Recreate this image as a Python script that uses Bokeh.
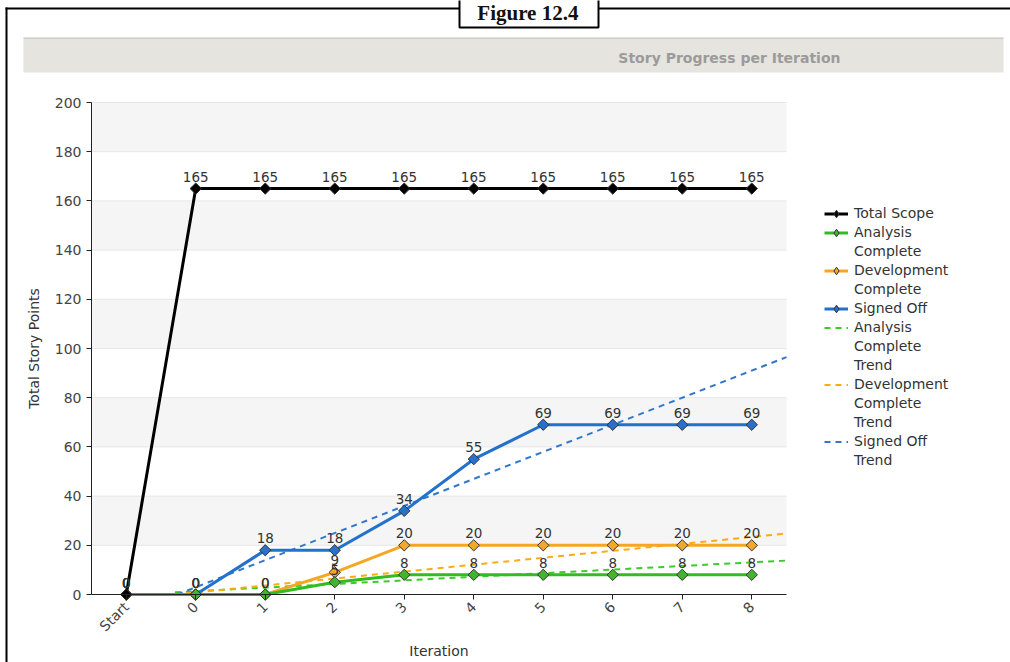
import math
from bokeh.plotting import figure
from bokeh.models import (Range1d, FixedTicker, ColumnDataSource, LabelSet, Legend,
                          LegendItem, Label, LinearAxis)
from bokeh.core.properties import value
from bokeh.embed import file_html
from bokeh.resources import INLINE

# ---------------- data ----------------
categories = ["Start", "0", "1", "2", "3", "4", "5", "6", "7", "8"]
total_scope = [0, 165, 165, 165, 165, 165, 165, 165, 165, 165]
analysis_complete = [0, 0, 0, 5, 8, 8, 8, 8, 8, 8]
development_complete = [0, 0, 0, 9, 20, 20, 20, 20, 20, 20]
signed_off = [0, 0, 18, 18, 34, 55, 69, 69, 69, 69]

# trend lines (start / end, x in category positions)
analysis_trend_x = [0.7, 9.5]
analysis_trend_y = [0.9, 13.8]
development_trend_x = [0.7, 9.5]
development_trend_y = [0.0, 24.8]
signed_off_trend_x = [0.73, 9.5]
signed_off_trend_y = [0.0, 96.5]

y_ticks = [0, 20, 40, 60, 80, 100, 120, 140, 160, 180, 200]

title_text = "Story Progress per Iteration"
figure_caption = "Figure  12.4"

legend_labels = ["Total Scope", "Analysis\nComplete", "Development\nComplete",
                 "Signed Off", "Analysis\nComplete\nTrend",
                 "Development\nComplete\nTrend", "Signed Off\nTrend"]

# ---------------- page geometry (pixels) ----------------
FONT = "DejaVu Sans"
W, H = 1010, 662
PLOT_L, PLOT_R = 91, 786       # pixel span of the category axis
PLOT_B, PLOT_T = 594, 102      # pixel of y = 0 and y = 200
Y_MAX = y_ticks[-1]
N = len(categories)
PX_CAT = (PLOT_R - PLOT_L) / N
PX_UNIT = (PLOT_B - PLOT_T) / Y_MAX


def px2x(px):
    return -0.5 + (px - PLOT_L) / PX_CAT


def px2y(py):
    return (PLOT_B - py) / PX_UNIT


xpos = list(range(N))

p = figure(width=W, height=H, output_backend="svg", toolbar_location=None,
           x_range=Range1d(px2x(0), px2x(W)), y_range=Range1d(px2y(H), px2y(0)),
           x_axis_location=None, y_axis_location=None,
           min_border=0, min_border_left=0, min_border_right=0,
           min_border_top=0, min_border_bottom=0)
p.outline_line_color = None
p.background_fill_color = "white"
p.border_fill_color = "white"
p.grid.visible = False

# ---------------- decorations: outer frame, caption, title band ----------------
p.quad(left=[px2x(5), px2x(598)], right=[px2x(459), px2x(W)],
       top=[px2y(7), px2y(7)], bottom=[px2y(9), px2y(9)],
       fill_color="black", line_color=None)
p.quad(left=[px2x(5)], right=[px2x(7)], top=[px2y(7)], bottom=[px2y(H)],
       fill_color="black", line_color=None)
p.quad(left=[px2x(459)], right=[px2x(598)], top=[px2y(-6)], bottom=[px2y(27)],
       fill_color="white", line_color="black", line_width=2)
p.add_layout(Label(x=px2x(530), y=px2y(12), text=figure_caption, text_align="center",
                   text_baseline="alphabetic", text_font="Liberation Serif",
                   text_font_size="21px", text_font_style="bold",
                   text_color="#111111"))
p.quad(left=[px2x(23)], right=[px2x(1003)], top=[px2y(37)], bottom=[px2y(72)],
       fill_color="#e6e4de", line_color=None)
p.quad(left=[px2x(23)], right=[px2x(1003)], top=[px2y(37)], bottom=[px2y(38.5)],
       fill_color="#d0d0ca", line_color=None)
p.add_layout(Label(x=px2x(840), y=px2y(57), text=title_text, text_align="right",
                   text_baseline="middle", text_font=FONT, text_font_size="14px",
                   text_font_style="bold", text_color="#9b9b9b"))

# ---------------- bands and grid lines ----------------
x_lo, x_hi = -0.5, N - 0.5
p.quad(left=x_lo, right=x_hi, bottom=y_ticks[1:-1:2], top=y_ticks[2::2],
       fill_color="#f5f5f5", line_color=None)
p.segment(x0=x_lo, x1=x_hi, y0=y_ticks[1:], y1=y_ticks[1:],
          line_color="#e6e6e6", line_width=1)

# ---------------- axes ----------------
yaxis = LinearAxis(ticker=FixedTicker(ticks=y_ticks), fixed_location=x_lo,
                   bounds=(0, Y_MAX), axis_label="Total Story Points")
xaxis = LinearAxis(ticker=FixedTicker(ticks=xpos), fixed_location=0,
                   bounds=(x_lo, x_hi), axis_label="Iteration")
xaxis.major_label_overrides = {i: c for i, c in enumerate(categories)}
xaxis.major_label_orientation = math.pi / 4
for ax in (xaxis, yaxis):
    ax.axis_line_color = "#222222"
    ax.major_tick_line_color = "#222222"
    ax.major_tick_out = 5
    ax.major_tick_in = 0
    ax.minor_tick_line_color = None
    ax.major_label_text_font = FONT
    ax.major_label_text_font_size = "14px"
    ax.major_label_text_color = "#444444"
    ax.axis_label_text_font = FONT
    ax.axis_label_text_font_size = "14px"
    ax.axis_label_text_font_style = "normal"
    ax.axis_label_text_color = "#333333"
yaxis.axis_label_standoff = 10
xaxis.axis_label_standoff = 0
p.add_layout(yaxis, "left")
p.add_layout(xaxis, "below")

# ---------------- series ----------------
t_green = p.line(analysis_trend_x, analysis_trend_y, line_color="#3ccc2a",
                 line_width=2, line_dash="6 5")
t_orange = p.line(development_trend_x, development_trend_y, line_color="#ffaa11",
                  line_width=2, line_dash="6 5")
t_blue = p.line(signed_off_trend_x, signed_off_trend_y, line_color="#3377cc",
                line_width=2, line_dash="6 5")

NAN = float("nan")


def series(vals, color, fill):
    ln = p.line(xpos, vals, line_color=color, line_width=3)
    p.scatter(xpos, vals, marker="square", angle=math.pi / 4, size=8,
              fill_color=fill, line_color="#333333", line_width=1)
    # legend-only marker (not drawn on the plot)
    proxy = p.scatter(x=[NAN], y=[NAN], marker="diamond", size=10,
                      fill_color=fill, line_color="#333333", line_width=1)
    return ln, proxy


b_ln, b_pt = series(signed_off, "#2271cc", "#2a6fc9")
o_ln, o_pt = series(development_complete, "#f5a623", "#f0a830")
g_ln, g_pt = series(analysis_complete, "#33bb22", "#44b330")
k_ln, k_pt = series(total_scope, "#000000", "#000000")

for vals in (signed_off, development_complete, analysis_complete, total_scope):
    src = ColumnDataSource(dict(x=xpos, y=vals, t=[str(v) for v in vals]))
    p.add_layout(LabelSet(x="x", y="y", text="t", source=src, y_offset=7,
                          text_align="center", text_baseline="bottom",
                          text_font=value(FONT), text_font_size="13.5px",
                          text_color="#333333"))

# ---------------- legend ----------------
blank = p.line(x=[NAN], y=[NAN], line_alpha=0)
legend_renderers = [[k_ln, k_pt], [g_ln, g_pt], [o_ln, o_pt], [b_ln, b_pt],
                    [t_green], [t_orange], [t_blue]]
items = []
for lab, rends in zip(legend_labels, legend_renderers):
    lines = lab.split("\n")
    items.append(LegendItem(label=lines[0], renderers=rends))
    for extra in lines[1:]:
        items.append(LegendItem(label=extra, renderers=[blank]))

ROW = 19
legend_top_px = 213 - ROW / 2
legend_h = ROW * len(items)
legend = Legend(items=items, location=(824, H - (legend_top_px + legend_h)))
legend.padding = 0
legend.margin = 0
legend.spacing = 0
legend.glyph_width = 24
legend.glyph_height = ROW
legend.label_height = ROW
legend.label_standoff = 6
legend.label_text_font = FONT
legend.label_text_font_size = "14px"
legend.label_text_color = "#333333"
legend.border_line_color = None
legend.background_fill_alpha = 0
p.add_layout(legend, "center")

open("out.html", "w").write(file_html(p, INLINE))
